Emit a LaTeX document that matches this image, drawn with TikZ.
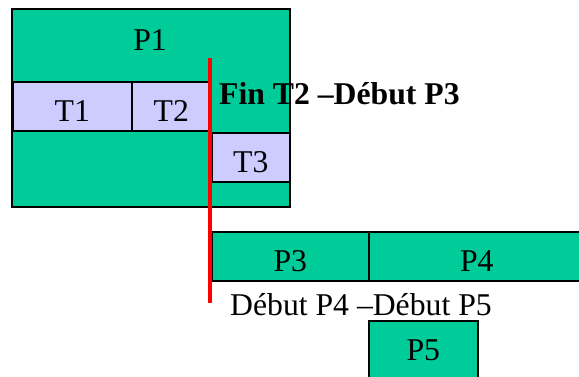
\documentclass[tikz,border=0pt]{standalone}
\usepackage{fontspec}
\setmainfont{Liberation Serif}
\definecolor{pgreen}{RGB}{0,204,153}
\definecolor{tlav}{RGB}{204,204,255}
\begin{document}
\begin{tikzpicture}[x=1pt,y=-1pt,
  box/.style={draw=black, line width=1.6pt, inner sep=0pt, anchor=north west,
    font=\fontsize{31.7}{36}\selectfont, text height=30pt, text depth=0pt},
  proc/.style={box, fill=pgreen},
  thr/.style={box, fill=tlav},
  lbl/.style={inner sep=0pt, font=\fontsize{31.7}{36}\selectfont}]
\useasboundingbox (0,0) rectangle (579,376);
\clip (0,0) rectangle (579,376);

% process P1 with its threads
\node[proc, minimum width=278pt, minimum height=198pt] (P1) at (11,8) {};
\node[lbl] (P1lbl) at (150,40) {P1};
\node[thr, minimum width=119pt, minimum height=49pt] (T1) at (12,81) {T1};
\node[thr, minimum width=79pt, minimum height=49pt] (T2) at (131,81) {T2};
\node[thr, minimum width=78pt, minimum height=49pt] (T3) at (211,132) {T3};

% later processes
\node[proc, minimum width=157pt, minimum height=49pt] (P3) at (211,231) {P3};
\node[proc, minimum width=216pt, minimum height=49pt] (P4) at (368,231) {P4};
\node[proc, minimum width=109pt, minimum height=70pt, text depth=21pt] (P5) at (368,320) {P5};

% synchronisation line
\coordinate (syncTop) at (210,58);
\coordinate (syncBot) at (210,303);
\draw[red, line width=3.5pt] (syncTop) -- (syncBot);

% annotations
\node[lbl, anchor=west, font=\fontsize{31.7}{36}\selectfont\bfseries] (fin) at (219,93.5) {Fin T2 –Début P3};
\node[lbl, anchor=west] (deb) at (230,305) {Début P4 –Début P5};
\end{tikzpicture}
\end{document}
